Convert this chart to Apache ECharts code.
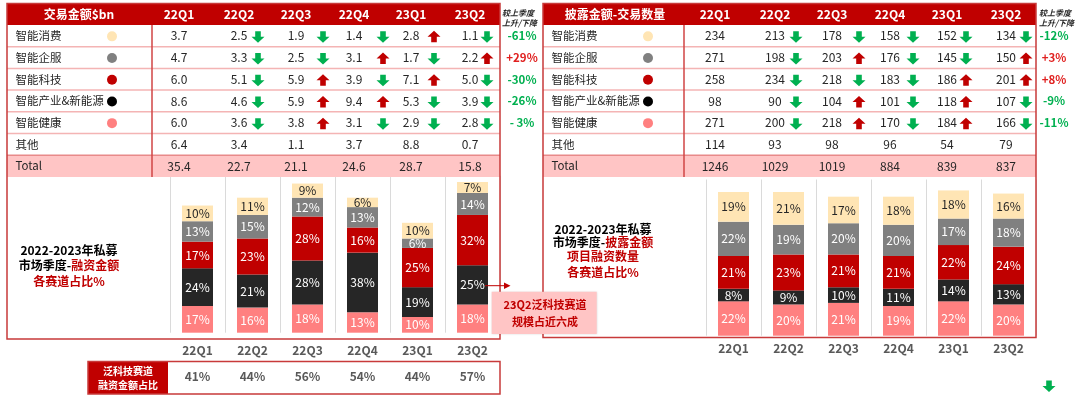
<!DOCTYPE html>
<html>
<head>
<meta charset="utf-8">
<title>2022-2023年私募市场季度 各赛道占比</title>
<script src="https://cdn.jsdelivr.net/npm/echarts@6.0.0/dist/echarts.min.js"></script>
<style>
html, body { margin: 0; padding: 0; background: #fff; }
#main { width: 1080px; height: 399px; }
</style>
</head>
<body>
<div id="main"></div>
<script>
var quarters = ['22Q1', '22Q2', '22Q3', '22Q4', '23Q1', '23Q2'];
var tracks = ['智能消费', '智能企服', '智能科技', '智能产业&新能源', '智能健康', '其他'];

// 交易金额 $bn
var amtConsumer = [3.7, 2.5, 1.9, 1.4, 2.8, 1.1];
var amtEnterprise = [4.7, 3.3, 2.5, 3.1, 1.7, 2.2];
var amtTech = [6.0, 5.1, 5.9, 3.9, 7.1, 5.0];
var amtIndustry = [8.6, 4.6, 5.9, 9.4, 5.3, 3.9];
var amtHealth = [6.0, 3.6, 3.8, 3.1, 2.9, 2.8];
var amtOther = [6.4, 3.4, 1.1, 3.7, 8.8, 0.7];
var amtTotal = [35.4, 22.7, 21.1, 24.6, 28.7, 15.8];
var amtChange = ['-61%', '+29%', '-30%', '-26%', '- 3%'];

// 披露金额-交易数量
var cntConsumer = [234, 213, 178, 158, 152, 134];
var cntEnterprise = [271, 198, 203, 176, 145, 150];
var cntTech = [258, 234, 218, 183, 186, 201];
var cntIndustry = [98, 90, 104, 101, 118, 107];
var cntHealth = [271, 200, 218, 170, 184, 166];
var cntOther = [114, 93, 98, 96, 54, 79];
var cntTotal = [1246, 1029, 1019, 884, 839, 837];
var cntChange = ['-12%', '+3%', '+8%', '-9%', '-11%'];

// 融资金额 各赛道占比 %
var shareAmtConsumer = [10, 11, 9, 6, 10, 7];
var shareAmtEnterprise = [13, 15, 12, 13, 6, 14];
var shareAmtTech = [17, 23, 28, 16, 25, 32];
var shareAmtIndustry = [24, 21, 28, 38, 19, 25];
var shareAmtHealth = [17, 16, 18, 13, 10, 18];

// 项目融资数量 各赛道占比 %
var shareCntConsumer = [19, 21, 17, 18, 18, 16];
var shareCntEnterprise = [22, 19, 20, 20, 17, 18];
var shareCntTech = [21, 23, 21, 21, 22, 24];
var shareCntIndustry = [8, 9, 10, 11, 14, 13];
var shareCntHealth = [22, 20, 21, 19, 22, 20];

// 泛科技赛道融资金额占比
var techShare = ['41%', '44%', '56%', '54%', '44%', '57%'];

var RED = '#C00000';
var GREEN = '#00B050';
var FONT = 'Noto Sans CJK SC';
var segColors = ['#FFE5B4', '#808080', '#C00000', '#262626', '#FF8080'];
var dotColors = ['#FFE5B4', '#808080', '#C00000', '#000000', '#FF8080'];

function txt(x, y, s, o) {
	o = o || {};
	return {
		type : 'text',
		x : x,
		y : y,
		z : o.z || 20,
		style : {
			text : s,
			fill : o.color || '#262626',
			fontSize : o.size || 12,
			fontWeight : o.weight || 'normal',
			fontStyle : o.italic ? 'italic' : 'normal',
			fontFamily : FONT,
			align : o.align || 'center',
			textAlign : o.align || 'center',
			verticalAlign : 'middle',
			textVerticalAlign : 'middle',
			rich : o.rich
		}
	};
}

function arrow(cx, cy, up) {
	var s = up ? -1 : 1;
	return {
		type : 'polygon',
		z : 20,
		shape : {
			points : [ [ cx - 2.8, cy - 5.5 * s ], [ cx + 2.8, cy - 5.5 * s ],
					[ cx + 2.8, cy ], [ cx + 6.5, cy ], [ cx, cy + 6 * s ],
					[ cx - 6.5, cy ], [ cx - 2.8, cy ] ]
		},
		style : {
			fill : up ? RED : GREEN
		}
	};
}

// one panel: table on top, framed bar area below
function panel(p) {
	var els = [];
	var x0 = p.x0, w = 493, top = 3.5, headH = 21.5, rowTop = 25, rowH = 21.7;
	var colX = [ 172, 232, 289, 347, 404, 463 ];

	els.push({ type : 'rect', z : 5,
		shape : { x : x0, y : rowTop + 6 * rowH, width : w, height : rowH },
		style : { fill : '#FFC5C5' } });
	els.push({ type : 'rect', z : 6,
		shape : { x : x0, y : top, width : w, height : headH },
		style : { fill : RED } });
	for (var i = 1; i < 7; i++) {
		var ly = rowTop + i * rowH;
		els.push({ type : 'line', z : 6,
			shape : { x1 : x0, y1 : ly, x2 : x0 + w, y2 : ly },
			style : { stroke : i == 6 ? '#E88A8A' : '#F4B4B4', lineWidth : 1.5 } });
	}
	els.push({ type : 'line', z : 7,
		shape : { x1 : x0 + p.divider, y1 : rowTop, x2 : x0 + p.divider, y2 : rowTop + 7 * rowH },
		style : { stroke : '#D04545', lineWidth : 1.5 } });
	els.push({ type : 'rect', z : 8,
		shape : { x : x0, y : top, width : w, height : p.boxBottom - top },
		style : { fill : 'none', stroke : '#C83A3A', lineWidth : 1.5 } });

	els.push(txt(x0 + 72, 14.5, p.title, { color : '#fff', weight : 'bold' }));
	for (var j = 0; j < quarters.length; j++) {
		els.push(txt(x0 + colX[j], 14.5, quarters[j], { color : '#fff', weight : 'bold' }));
	}

	for (var r = 0; r < 7; r++) {
		var cy = rowTop + (r + 0.5) * rowH;
		var vals = r < 6 ? p.rows[r] : p.totals;
		els.push(txt(x0 + 8.5, cy, r < 6 ? tracks[r] : 'Total', { align : 'left', size : 11.5 }));
		if (r < 5) {
			els.push({ type : 'circle', z : 20,
				shape : { cx : x0 + 105, cy : cy + 0.5, r : 5 },
				style : { fill : dotColors[r] } });
		}
		for (var c = 0; c < vals.length; c++) {
			var s = p.dec ? vals[c].toFixed(1) : String(vals[c]);
			els.push(txt(x0 + colX[c], cy, s, { size : 12 }));
			if (r < 5 && c > 0) {
				els.push(arrow(x0 + colX[c] + p.arrowOff[c], cy + 1, vals[c] > vals[c - 1]));
			}
		}
		if (r < 5) {
			var ch = p.changes[r];
			els.push(txt(p.changeX, cy, ch, {
				weight : 'bold', size : 11.5,
				color : ch.charAt(0) == '+' ? '#E0201F' : GREEN
			}));
		}
	}
	els.push(txt(p.changeHeadX, 12.5, '较上季度', { align : 'left', size : 8, weight : 'bold', italic : true }));
	els.push(txt(p.changeHeadX, 23, '上升/下降', { align : 'left', size : 8, weight : 'bold', italic : true }));

	// caption at the left of the bars
	var rich = {
		k : { fill : '#000', fontWeight : 'bold', fontSize : 12, fontFamily : FONT },
		r : { fill : RED, fontWeight : 'bold', fontSize : 12, fontFamily : FONT }
	};
	for (var t = 0; t < p.caption.length; t++) {
		els.push(txt(p.captionX, p.captionY[t], p.caption[t], { rich : rich }));
	}
	return els;
}

var graphics = [];
graphics = graphics.concat(panel({
	x0 : 7, divider : 145, boxBottom : 339, title : '交易金额$bn', dec : true,
	rows : [ amtConsumer, amtEnterprise, amtTech, amtIndustry, amtHealth, amtOther ],
	totals : amtTotal, changes : amtChange,
	arrowOff : [ 0, 19, 27, 29, 23, 17 ],
	changeX : 522, changeHeadX : 502,
	caption : [ '{k|2022-2023年私募}', '{k|市场季度-}{r|融资金额}', '{r|各赛道占比%}' ],
	captionX : 69, captionY : [ 250, 265, 281 ]
}));
graphics = graphics.concat(panel({
	x0 : 543, divider : 141, boxBottom : 337.5, title : '披露金额-交易数量', dec : false,
	rows : [ cntConsumer, cntEnterprise, cntTech, cntIndustry, cntHealth, cntOther ],
	totals : cntTotal, changes : cntChange,
	arrowOff : [ 0, 21, 27, 23, 19, 20 ],
	changeX : 1054, changeHeadX : 1039,
	caption : [ '{k|2022-2023年私募}', '{k|市场季度-}{r|披露金额}', '{r|项目融资数量}', '{r|各赛道占比%}' ],
	captionX : 603, captionY : [ 229, 242.5, 256, 272.5 ]
}));

// bottom row: 泛科技赛道融资金额占比
graphics.push({ type : 'rect', z : 5,
	shape : { x : 88, y : 361.5, width : 80, height : 32.5 },
	style : { fill : RED } });
graphics.push({ type : 'rect', z : 8,
	shape : { x : 88, y : 361.5, width : 412, height : 32.5 },
	style : { fill : 'none', stroke : '#C83A3A', lineWidth : 1.5 } });
graphics.push(txt(128, 371.5, '泛科技赛道', { color : '#fff', weight : 'bold', size : 10 }));
graphics.push(txt(128, 385, '融资金额占比', { color : '#fff', weight : 'bold', size : 10 }));

// callout
graphics.push({ type : 'line', z : 30,
	shape : { x1 : 485, y1 : 285.7, x2 : 505, y2 : 285.7 },
	style : { stroke : RED, lineWidth : 1 } });
graphics.push({ type : 'polygon', z : 30,
	shape : { points : [ [ 504, 282.5 ], [ 510.5, 285.7 ], [ 504, 289 ] ] },
	style : { fill : RED } });
graphics.push({ type : 'rect', z : 30,
	shape : { x : 491.7, y : 291.7, width : 105, height : 42.3 },
	style : { fill : '#FFC5C5', shadowBlur : 2, shadowColor : 'rgba(0,0,0,0.15)' } });
graphics.push(txt(545, 305, '23Q2泛科技赛道', { color : RED, weight : 'bold', size : 11, z : 31 }));
graphics.push(txt(545, 321.5, '规模占近六成', { color : RED, weight : 'bold', size : 11, z : 31 }));

graphics.push(arrow(1049, 386, false));

function stack(shares, xIdx, yIdx, name) {
	var out = [];
	for (var k = shares.length - 1; k >= 0; k--) {
		out.push({
			type : 'bar',
			name : tracks[k],
			stack : name,
			xAxisIndex : xIdx,
			yAxisIndex : yIdx,
			barWidth : 31,
			data : shares[k],
			itemStyle : { color : segColors[k] },
			label : {
				show : true,
				position : 'inside',
				formatter : '{c}%',
				color : k == 0 ? '#262626' : '#fff',
				fontSize : 12,
				fontFamily : FONT
			}
		});
	}
	return out;
}

var catAxis = function(grid, margin) {
	return {
		type : 'category',
		gridIndex : grid,
		data : quarters,
		axisLine : { show : false },
		axisTick : { show : false },
		splitLine : { show : true, lineStyle : { color : '#DADADA', width : 1 } },
		axisLabel : { margin : margin, color : '#595959', fontWeight : 'bold', fontSize : 12, fontFamily : FONT }
	};
};

var Chart = echarts.init(document.getElementById('main'), null, { renderer : 'canvas' });
var option = {
	animation : false,
	backgroundColor : '#fff',
	grid : [
		{ left : 170, width : 330, top : 175.7, height : 157 },
		{ left : 706, width : 330, top : 179.5, height : 156.2 }
	],
	xAxis : [
		catAxis(0, 12),
		{
			type : 'category',
			gridIndex : 0,
			position : 'bottom',
			offset : 28,
			data : techShare,
			axisLine : { show : false },
			axisTick : { show : false },
			axisLabel : { margin : 10, color : '#595959', fontWeight : 'bold', fontSize : 12, fontFamily : FONT }
		},
		catAxis(1, 7)
	],
	yAxis : [
		{ type : 'value', gridIndex : 0, min : 0, max : 100, show : false },
		{ type : 'value', gridIndex : 1, min : 0, max : 100, show : false }
	],
	series : stack([ shareAmtConsumer, shareAmtEnterprise, shareAmtTech, shareAmtIndustry, shareAmtHealth ], 0, 0, 'amt')
		.concat(stack([ shareCntConsumer, shareCntEnterprise, shareCntTech, shareCntIndustry, shareCntHealth ], 2, 1, 'cnt')),
	graphic : { elements : graphics }
};
Chart.setOption(option);
window.onresize = Chart.resize;
</script>
</body>
</html>
